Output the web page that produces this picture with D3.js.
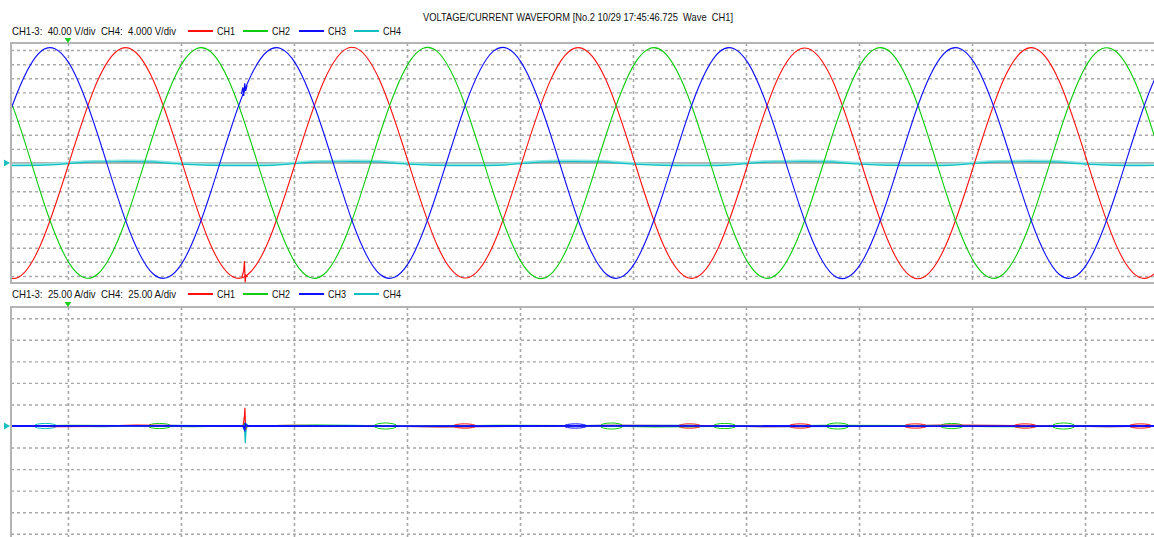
<!DOCTYPE html>
<html>
<head>
<meta charset="utf-8">
<script src="https://cdn.jsdelivr.net/npm/d3@7"></script>
<style>
body { margin: 0; background: #fff; }
text { font-family: "Liberation Sans", Arial, sans-serif; font-size: 11px; fill: #111; white-space: pre; }
</style>
</head>
<body>
<div class="content"></div>
<script>
// sample times (ms) - trigger at 0, about 1/8 period apart
var times = [-7.42, -4.92, -2.41, 0.09, 2.59, 5.10, 7.60, 10.11, 12.61, 15.11, 17.62, 20.12, 22.63, 25.13, 27.63,
    30.14, 32.64, 35.15, 37.65, 40.15, 42.66, 45.16, 47.67, 50.17, 52.67, 55.18, 57.68, 60.19, 62.69, 65.19,
    67.70, 70.20, 72.71, 75.21, 77.71, 80.22, 82.72, 85.23, 87.73, 90.23, 92.74, 95.24, 97.75, 100.25];

// voltages (V) read at those times
var ch1V = [-231, -327, -231,
    0, 231, 327, 231, 0, -231, -327, -231,
    0, 231, 328, 231, 0, -231, -326, -231,
    0, 232, 327, 231, 0, -231, -327, -231,
    0, 231, 326, 231, 0, -231, -328, -231,
    0, 231, 327, 231, 0, -232, -327, -231,
    0];
var ch2V = [316, 163, -85,
    -283, -316, -163, 85, 283, 316, 163, -85,
    -283, -316, -163, 85, 283, 317, 163, -85,
    -283, -317, -163, 85, 283, 316, 163, -85,
    -283, -316, -163, 85, 283, 316, 163, -85,
    -283, -316, -163, 85, 283, 316, 163, -85,
    -283];
var ch3V = [-85, 163, 316,
    283, 85, -163, -316, -283, -85, 163, 316,
    283, 85, -163, -316, -283, -85, 163, 317,
    283, 85, -163, -316, -283, -85, 163, 316,
    283, 85, -163, -317, -283, -85, 163, 316,
    283, 85, -163, -316, -283, -85, 163, 316,
    283];
// CH4 voltage [ms, V]
var ch4V = [[-7, -0.7], [-5, -0.75], [-2, -0.62], [0, -0.2], [1.5, 0.2], [4, 0.35], [7, 0.3], [9, -0.1],
    [12, -0.6], [15, -0.75], [18, -0.65], [20, -0.2], [21.5, 0.2], [24, 0.35], [27, 0.3], [29, -0.1],
    [32, -0.6], [35, -0.72], [38, -0.65], [40, -0.2], [41.5, 0.2], [44, 0.38], [47, 0.3], [49, -0.1],
    [52, -0.6], [55, -0.78], [58, -0.65], [60, -0.2], [61.5, 0.2], [64, 0.35], [67, 0.3], [69, -0.1],
    [72, -0.6], [75, -0.75], [78, -0.65], [80, -0.2], [81.5, 0.2], [84, 0.35], [87, 0.3], [89, -0.1],
    [92, -0.6], [95, -0.75], [98, -0.65]];

// glitches near 15.6 ms [ms, V]
var ch1Glitch = [[15.40, -323], [15.55, -305], [15.62, -278], [15.68, -338], [15.75, -318], [15.90, -322]];
var ch3Glitch = [[15.35, 196], [15.48, 214], [15.55, 190], [15.64, 226], [15.72, 204], [15.85, 220]];

// currents (A) [ms, A]
var ch1A = [[-6, 0.3], [-1, -0.8], [2, -0.5], [6, 0.9], [10, 0.4], [15.5, 0], [15.62, 12], [15.66, 21], [15.70, 4], [15.76, -3], [15.9, 0],
    [20, 0.8], [25, 0.3], [33, -0.9], [40, -0.4], [48, 0.8], [55, 0.5], [62, -0.8], [70, -0.3], [78, 0.9], [85, 0.4], [92, -0.7], [98, 0]];
var ch2A = [[-6, -0.4], [0, 0.8], [5, 0.5], [11, -0.8], [15.5, 0], [15.66, 3], [15.75, -2], [15.9, 0], [22, 0.9], [30, -0.5],
    [38, 0.8], [45, 0.4], [52, -0.9], [60, -0.3], [67, 0.8], [75, 0.5], [82, -0.8], [90, -0.2], [98, 0]];
var ch3A = [[-6, 0], [5, 0.2], [15.5, 0], [15.64, -4], [15.70, 2], [15.85, 0], [30, -0.2], [50, 0.2], [70, -0.2], [98, 0]];
var ch4A = [[-6, 0.5], [3, -0.6], [9, 0.7], [15.5, 0], [15.64, -6], [15.69, -20], [15.74, -8], [15.8, 2], [16, 0],
    [25, 0.6], [32, -0.8], [40, -0.5], [47, 0.8], [55, 0.6], [62, -0.7], [70, -0.5], [77, 0.8], [85, 0.5], [92, -0.6], [98, 0]];

// small current blips [channel, ms, A]
var blips = [["CH4", -2.0, 3], ["CH2", 8.1, 3], ["CH2", 28.1, 3.5], ["CH1", 35.1, 2.5], ["CH3", 44.9, 2.5],
    ["CH2", 48.1, 3.5], ["CH1", 55.0, 2.5], ["CH2", 58.1, 3], ["CH1", 64.8, 2.5], ["CH2", 68.1, 3.5],
    ["CH1", 75.0, 2.5], ["CH2", 78.2, 3], ["CH1", 84.7, 2.5], ["CH2", 88.1, 3.5], ["CH1", 94.9, 2.5]];

var channels = ["CH1", "CH2", "CH3", "CH4"];
var colors = {CH1: "#ff1010", CH2: "#10cc10", CH3: "#1010ff", CH4: "#10c0c0"};

var W = 1154, H = 537;
var svg = d3.select(".content").append("svg")
    .attr("width", W)
    .attr("height", H);

var x = d3.scaleLinear().domain([-5.04, 96.1]).range([11, 1154]);
var yV = d3.scaleLinear().domain([-340, 340]).range([283, 43]);
var yV4 = d3.scaleLinear().domain([-34, 34]).range([283, 43]);
var yA = d3.scaleLinear().domain([-138, 138]).range([545, 307]);

var timeTicks = d3.range(0, 100, 10);

// title
svg.append("text")
    .attr("x", 423)
    .attr("y", 21)
    .attr("textLength", 310)
    .attr("lengthAdjust", "spacingAndGlyphs")
    .text("VOLTAGE/CURRENT WAVEFORM [No.2 10/29 17:45:46.725  Wave  CH1]");

function legend(yPos, label) {
    svg.append("text").attr("x", 12).attr("y", yPos + 4)
        .attr("textLength", 164).attr("lengthAdjust", "spacingAndGlyphs")
        .text(label);
    var lx = [188, 243, 299, 354];
    channels.forEach(function (c, i) {
        svg.append("line")
            .attr("x1", lx[i]).attr("x2", lx[i] + 25)
            .attr("y1", yPos).attr("y2", yPos)
            .attr("stroke", colors[c]).attr("stroke-width", 2);
        svg.append("text").attr("x", lx[i] + 29).attr("y", yPos + 4)
            .attr("textLength", 18).attr("lengthAdjust", "spacingAndGlyphs")
            .text(c);
    });
}
legend(31, "CH1-3:  40.00 V/div  CH4:  4.000 V/div");
legend(294, "CH1-3:  25.00 A/div  CH4:  25.00 A/div");

function panel(id, yScale, hTicks) {
    var r = yScale.range();
    var g = svg.append("g");
    svg.append("clipPath").attr("id", id)
        .append("rect").attr("x", 12).attr("y", r[1]).attr("width", W).attr("height", r[0] - r[1]);

    // horizontal dashed grid
    g.append("g")
        .attr("transform", "translate(11,0)")
        .call(d3.axisLeft(yScale).tickValues(hTicks).tickSize(-(W - 11)).tickFormat(""))
        .call(function (a) { a.select(".domain").remove(); })
        .selectAll("line")
        .attr("stroke", "#a8a8a8").attr("stroke-width", 1.4).attr("stroke-dasharray", "3,3");

    // vertical dashed grid
    g.append("g")
        .attr("transform", "translate(0," + r[1] + ")")
        .call(d3.axisTop(x).tickValues(timeTicks).tickSize(-(r[0] - r[1])).tickFormat(""))
        .call(function (a) { a.select(".domain").remove(); })
        .selectAll("line")
        .attr("stroke", "#a8a8a8").attr("stroke-width", 1.6).attr("stroke-dasharray", "3,3");

    // zero line
    g.append("line")
        .attr("x1", 11).attr("x2", W)
        .attr("y1", yScale(0)).attr("y2", yScale(0))
        .attr("stroke", "#b4b4b4").attr("stroke-width", 2);

    // frame
    g.append("rect")
        .attr("x", 11).attr("y", r[1])
        .attr("width", W + 10).attr("height", r[0] - r[1])
        .attr("fill", "none").attr("stroke", "#b4b4b4").attr("stroke-width", 2);

    // trigger marker
    g.append("path")
        .attr("d", "M" + (x(0) - 3.5) + "," + (r[1] - 5) + "h7l-3.5,5z")
        .attr("fill", "#20d020");
    // zero marker
    g.append("path")
        .attr("d", "M4," + (yScale(0) - 3.5) + "v7l6,-3.5z")
        .attr("fill", "#20c0c0");
    return g;
}

panel("clipTop", yV, d3.range(-320, 321, 40).filter(function (d) { return d !== 0; }));
panel("clipBot", yA, d3.range(-125, 126, 25).filter(function (d) { return d !== 0; }));

// ---- top panel voltages
var topG = svg.append("g").attr("clip-path", "url(#clipTop)");

var smooth = d3.line()
    .x(function (d) { return x(d[0]); })
    .y(function (d) { return yV(d[1]); })
    .curve(d3.curveNatural);

function zipV(vals) { return times.map(function (t, i) { return [t, vals[i]]; }); }

topG.append("path")
    .datum(ch4V)
    .attr("fill", "none").attr("stroke", "#90e4e4").attr("stroke-width", 2.2)
    .attr("d", d3.line().x(function (d) { return x(d[0]); }).y(function (d) { return yV4(d[1]) - 1; }).curve(d3.curveNatural));
topG.append("path")
    .datum(ch4V)
    .attr("fill", "none").attr("stroke", colors.CH4).attr("stroke-width", 1.2)
    .attr("d", d3.line().x(function (d) { return x(d[0]); }).y(function (d) { return yV4(d[1]); }).curve(d3.curveNatural));

[["CH1", ch1V], ["CH2", ch2V], ["CH3", ch3V]].forEach(function (s) {
    topG.append("path")
        .datum(zipV(s[1]))
        .attr("fill", "none")
        .attr("stroke", colors[s[0]])
        .attr("stroke-width", 1.1)
        .attr("d", smooth);
});

var straightV = d3.line().x(function (d) { return x(d[0]); }).y(function (d) { return yV(d[1]); });
topG.append("path").datum(ch1Glitch).attr("fill", "none").attr("stroke", colors.CH1).attr("stroke-width", 1.2).attr("d", straightV);
topG.append("path").datum(ch3Glitch).attr("fill", "none").attr("stroke", colors.CH3).attr("stroke-width", 1.2).attr("d", straightV);

// ---- bottom panel currents
var botG = svg.append("g").attr("clip-path", "url(#clipBot)");
var lineA = d3.line()
    .x(function (d) { return x(d[0]); })
    .y(function (d) { return yA(d[1]); });

botG.selectAll(".blip")
    .data(blips)
    .enter()
    .append("ellipse")
    .attr("class", "blip")
    .attr("cx", function (d) { return x(d[1]); })
    .attr("cy", yA(0))
    .attr("rx", function (d) { return x(d[1] + 1.0) - x(d[1]); })
    .attr("ry", function (d) { return yA(0) - yA(d[2]); })
    .attr("fill", "none")
    .attr("stroke", function (d) { return colors[d[0]]; })
    .attr("stroke-width", 1);

[["CH4", ch4A, 1.3], ["CH1", ch1A, 1.2], ["CH2", ch2A, 1.2], ["CH3", ch3A, 1.8]].forEach(function (s) {
    botG.append("path")
        .datum(s[1])
        .attr("fill", "none")
        .attr("stroke", colors[s[0]])
        .attr("stroke-width", s[2])
        .attr("d", lineA);
});
</script>
</body>
</html>
